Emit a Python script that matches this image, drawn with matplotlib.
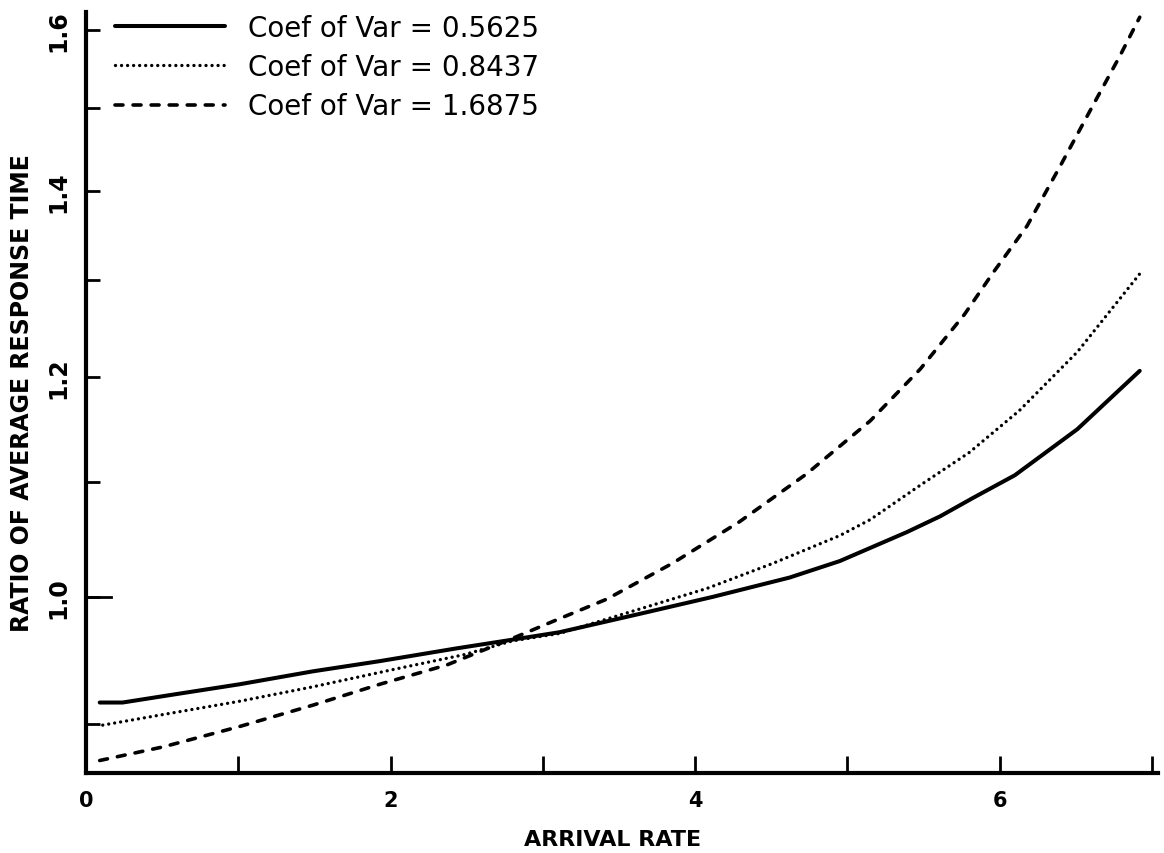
import matplotlib
matplotlib.use("Agg")
import matplotlib.pyplot as plt
from matplotlib.ticker import FixedLocator, FixedFormatter, NullFormatter

# ---- data ----
x_a = [0.09, 0.24, 0.57, 1.01, 1.49, 1.93, 2.43, 2.80, 3.11, 3.64, 4.12, 4.62,
       4.95, 5.39, 5.61, 5.82, 6.10, 6.51, 6.92]
y_a = [0.916, 0.916, 0.922, 0.930, 0.940, 0.948, 0.958, 0.965, 0.971, 0.986, 1.000, 1.016,
       1.030, 1.055, 1.069, 1.085, 1.106, 1.149, 1.206]

x_b = [0.11, 0.51, 1.01, 1.49, 2.04, 2.48, 2.80, 3.11, 3.64, 4.08, 4.51, 4.95,
       5.15, 5.48, 5.80, 6.13, 6.51, 6.92]
y_b = [0.899, 0.907, 0.917, 0.928, 0.942, 0.953, 0.964, 0.970, 0.990, 1.007, 1.028, 1.052,
       1.066, 1.097, 1.127, 1.167, 1.225, 1.307]

x_c = [0.09, 0.51, 1.01, 1.49, 1.93, 2.37, 2.80, 3.11, 3.42, 3.85, 4.29, 4.73,
       5.15, 5.48, 5.77, 5.96, 6.18, 6.40, 6.61, 6.79, 6.92]
y_c = [0.873, 0.883, 0.898, 0.914, 0.930, 0.945, 0.966, 0.982, 0.998, 1.028, 1.064, 1.107,
       1.157, 1.208, 1.264, 1.309, 1.360, 1.430, 1.502, 1.566, 1.617]

labels = ["Coef of Var = 0.5625", "Coef of Var = 0.8437", "Coef of Var = 1.6875"]

x_major = [0, 2, 4, 6]
x_major_labels = ["0", "2", "4", "6"]
x_minor = [1, 3, 5, 7]
y_major = [1.0, 1.2, 1.4, 1.6]
y_major_labels = ["1.0", "1.2", "1.4", "1.6"]
y_minor = [0.9, 1.1, 1.3, 1.5]

xlabel = "ARRIVAL RATE"
ylabel = "RATIO OF AVERAGE RESPONSE TIME"

# ---- figure ----
W, H = 1164, 854
fig = plt.figure(figsize=(W / 100, H / 100), dpi=100)
L, R, B, T = 86, 1158, 774, 13
ax = fig.add_axes([L / W, 1 - B / H, (R - L) / W, (B - T) / H])

ax.plot(x_a, y_a, color="black", lw=2.9, ls="-", solid_capstyle="round",
        solid_joinstyle="round", label=labels[0])
ax.plot(x_b, y_b, color="black", lw=2.4, ls=(0, (0.01, 1.8)), dash_capstyle="round",
        label=labels[1])
ax.plot(x_c, y_c, color="black", lw=2.6, ls=(0, (2.2, 2.8)), dash_capstyle="round",
        label=labels[2])

ax.set_yscale("log")
ax.set_xlim(0, 7.04)
ax.set_ylim(0.864, 1.624)

ax.xaxis.set_major_locator(FixedLocator(x_major))
ax.xaxis.set_major_formatter(FixedFormatter(x_major_labels))
ax.xaxis.set_minor_locator(FixedLocator(x_minor))
ax.xaxis.set_minor_formatter(NullFormatter())
ax.yaxis.set_major_locator(FixedLocator(y_major))
ax.yaxis.set_major_formatter(FixedFormatter(y_major_labels))
ax.yaxis.set_minor_locator(FixedLocator(y_minor))
ax.yaxis.set_minor_formatter(NullFormatter())

for s in ["top", "right"]:
    ax.spines[s].set_visible(False)
for s in ["left", "bottom"]:
    ax.spines[s].set_linewidth(3.0)

ax.tick_params(axis="both", which="both", direction="in", width=2.0, color="black")
ax.tick_params(axis="x", which="both", length=12, pad=12, labelsize=15)
ax.tick_params(axis="y", which="both", length=10, pad=11, labelsize=17)
for lab in ax.get_xticklabels():
    lab.set_fontweight("bold")
for lab in ax.get_yticklabels():
    lab.set_rotation(90)
    lab.set_fontweight("bold")
    lab.set_va("center")

# longer tick at 1.0 as in the original
ax.axhline(1.0, xmin=0, xmax=25 / (R - L), color="black", lw=2.0)

ax.set_xlabel(xlabel, fontsize=16, fontweight="bold", va="center")
ax.xaxis.set_label_coords((613 - L) / (R - L), (B - 840) / (B - T))
ax.set_ylabel(ylabel, fontsize=17, fontweight="bold", va="center")
ax.yaxis.set_label_coords((22 - L) / (R - L), 0.5)

leg = ax.legend(loc="upper left", bbox_to_anchor=((115 - L) / (R - L), 1.0 - 2 / (B - T)),
                frameon=False, fontsize=20, handlelength=3.95, handletextpad=0.85,
                labelspacing=0.4, borderaxespad=0, borderpad=0)

fig.savefig("out.png", dpi=100)
